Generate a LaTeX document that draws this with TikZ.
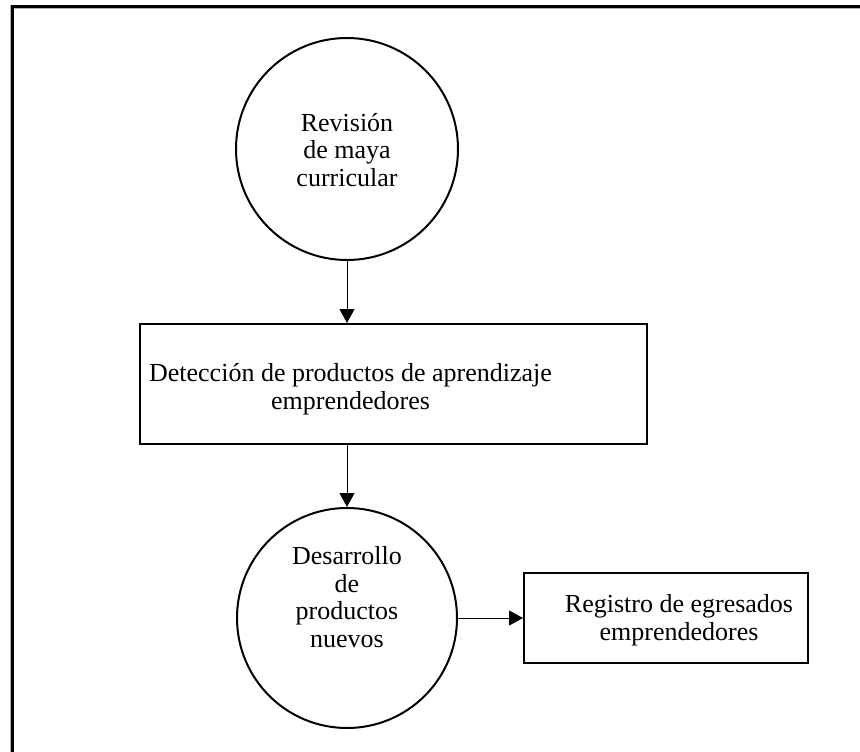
\documentclass[tikz,border=0pt]{standalone}
\usepackage{fontspec}
\setmainfont{Liberation Serif}
\usetikzlibrary{arrows.meta}
\begin{document}
\begin{tikzpicture}[x=1pt,y=-1pt,
  txt/.style={align=center,font=\fontsize{26}{27.5}\selectfont,inner sep=0pt},
  proc/.style={draw,line width=2pt,circle,minimum size=222pt,inner sep=0pt},
  box/.style={draw,line width=2pt,inner sep=0pt},
  conn/.style={line width=1pt,-{Triangle[length=14pt,width=15pt]}}]
\useasboundingbox (0,0) rectangle (860,752);
% frame (only top and left visible)
\coordinate (ftl) at (12,7);
\coordinate (ftr) at (862,7);
\coordinate (fbl) at (12,754);
\draw[line width=3.6pt,gray!60] (ftr) -- (ftl) -- (fbl);
\draw[line width=2.4pt] ([yshift=0.5pt]ftr) -- ([xshift=0.5pt,yshift=0.5pt]ftl) -- ([xshift=0.5pt]fbl);
% nodes
\node[proc] (c1) at (347,149) {};
\node[txt] (c1t) at (347,150) {Revisión\\de maya\\curricular};
\node[box,minimum width=507pt,minimum height=120pt] (r1) at (393.5,384) {};
\node[txt] (r1t) at (350.5,389) {Detección de productos de aprendizaje\\emprendedores};
\node[proc,minimum size=220pt] (c2) at (347,618) {};
\node[txt] (c2t) at (347,597) {Desarrollo\\de\\productos\\nuevos};
\node[box,minimum width=284pt,minimum height=90pt] (r2) at (666,618) {};
\node[txt] (r2t) at (679,620) {Registro de egresados\\emprendedores};
% connectors
\draw[conn] (c1.south) -- (r1.north -| c1.south);
\draw[conn] (r1.south -| c2.north) -- (c2.north);
\draw[conn] (c2.east) -- (r2.west);
\end{tikzpicture}
\end{document}
